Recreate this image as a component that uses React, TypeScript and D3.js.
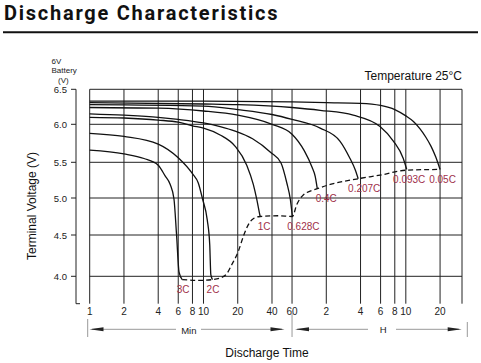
import { useEffect, useRef } from "react";
import * as d3 from "d3";

// discharge time gridlines, in minutes (1..60 min, then 2..20 h)
const gridMinutes = [1, 2, 4, 6, 8, 10, 20, 40, 60, 120, 240, 360, 480, 600, 1200];
const timeLabels = ["1", "2", "4", "6", "8", "10", "20", "40", "60", "2", "4", "6", "8", "10", "20"];
const voltTicks = [4.0, 4.5, 5.0, 5.5, 6.0, 6.5];
const voltLabels = ["4.0", "4.5", "5.0", "5.5", "6.0", "6.5"];

// [minutes, volts]
const curve3C = [[1, 5.66], [2, 5.61], [3, 5.55], [4, 5.46], [4.6, 5.31], [5.1, 5.19], [5.5, 4.99], [5.8, 4.5], [6.1, 4.05], [6.5, 3.96]];
const curve2C = [[1, 5.88], [2, 5.84], [4, 5.74], [6, 5.56], [8, 5.34], [9, 5.21], [9.8, 4.99], [10.8, 4.7], [11.35, 4.38], [11.6, 4.02], [12, 3.96]];
const curve1C = [[1, 6.1], [2, 6.09], [4, 6.06], [6, 6.03], [8, 5.98], [10, 5.95], [14, 5.86], [19, 5.71], [24, 5.46], [27.4, 5.19], [29.4, 4.98], [31, 4.8], [31.5, 4.75]];
const curve0628C = [[1, 6.15], [2, 6.13], [4, 6.1], [6, 6.07], [10, 6.02], [14, 5.97], [19, 5.91], [27, 5.81], [39, 5.63], [48, 5.49], [54, 5.21], [58, 4.98], [60.4, 4.75]];
const curve04C = [[1, 6.24], [4, 6.23], [10, 6.19], [20, 6.13], [40, 6.0], [60, 5.87], [77, 5.65], [90, 5.43], [96, 5.3], [100, 5.13]];
const curve0207C = [[1, 6.28], [10, 6.26], [20, 6.21], [40, 6.14], [60, 6.07], [106, 5.95], [158, 5.78], [194, 5.55], [215, 5.4], [229, 5.27]];
const curve0093C = [[1, 6.31], [10, 6.29], [20, 6.28], [60, 6.24], [106, 6.2], [207, 6.13], [356, 5.97], [466, 5.78], [570, 5.55], [611, 5.4]];
const curve005C = [[1, 6.33], [10, 6.33], [60, 6.32], [120, 6.31], [240, 6.3], [360, 6.27], [480, 6.21], [600, 6.12], [700, 6.04], [800, 5.94], [900, 5.83], [1000, 5.71], [1100, 5.57], [1200, 5.4]];

// final voltage envelope (dashed)
const endVoltage = [[6.5, 3.96], [9, 3.95], [12, 3.96], [14, 3.98], [16, 4.03], [17.7, 4.14], [20.2, 4.3], [22.5, 4.49], [24.8, 4.64], [27.4, 4.72], [31.5, 4.75], [45, 4.76], [60.4, 4.75], [66, 4.91], [75, 5.04], [100, 5.13], [130, 5.19], [229, 5.27], [356, 5.32], [611, 5.39], [1200, 5.4]];

const rates = ["3C", "2C", "1C", "0.628C", "0.4C", "0.207C", "0.093C", "0.05C"];
const curves = [curve3C, curve2C, curve1C, curve0628C, curve04C, curve0207C, curve0093C, curve005C];

export default function App() {
    const svgRef = useRef<SVGSVGElement>(null);

    useEffect(() => {
        const svg = d3.select(svgRef.current);
        svg.selectAll("*").remove();

        const left = 89.7, right = 462, top = 89.3, bottom = 303.7;
        const x = d3.scaleLog().domain([1, 1870]).range([left, right]);
        // the printed voltage grid is not evenly spaced, so map each gridline
        const y = d3.scaleLinear()
            .domain([3.668, 4.0, 4.5, 5.0, 5.5, 6.0, 6.5])
            .range([bottom, 276.3, 235, 198, 162.3, 124.3, top]);
        const font = "'Liberation Sans', Arial, sans-serif";

        // title
        svg.append("text")
            .attr("x", 4).attr("y", 19.5)
            .attr("font-family", "Roboto, sans-serif")
            .attr("font-weight", 700)
            .attr("font-size", 20)
            .attr("letter-spacing", 1.75)
            .attr("fill", "#111")
            .text("Discharge Characteristics");
        svg.append("line")
            .attr("x1", 3).attr("x2", 478).attr("y1", 32.3).attr("y2", 32.3)
            .attr("stroke", "#111").attr("stroke-width", 2);

        // unit note
        const note = svg.append("g").attr("font-family", font).attr("font-size", 8).attr("fill", "#222");
        note.append("text").attr("x", 51.5).attr("y", 63.5).text("6V");
        note.append("text").attr("x", 51.5).attr("y", 72.5).text("Battery");
        note.append("text").attr("x", 58).attr("y", 82.5).text("(V)");

        svg.append("text")
            .attr("x", right).attr("y", 80)
            .attr("text-anchor", "end")
            .attr("font-family", font).attr("font-size", 12).attr("fill", "#111")
            .text("Temperature 25°C");

        // grid
        const grid = svg.append("g").attr("stroke", "#222").attr("stroke-width", 1);
        grid.selectAll(".v").data(gridMinutes).join("line")
            .attr("x1", d => x(d)).attr("x2", d => x(d))
            .attr("y1", top).attr("y2", bottom);
        grid.append("line").attr("x1", right).attr("x2", right).attr("y1", top).attr("y2", bottom);
        grid.selectAll(".h").data(voltTicks).join("line")
            .attr("x1", left).attr("x2", right)
            .attr("y1", d => y(d)).attr("y2", d => y(d));

        // y axis
        const axisX = 76;
        const ax = svg.append("g").attr("stroke", "#222").attr("stroke-width", 1);
        ax.append("line").attr("x1", axisX).attr("x2", axisX).attr("y1", top).attr("y2", bottom);
        ax.append("line").attr("x1", axisX).attr("x2", axisX + 4).attr("y1", bottom).attr("y2", bottom);
        ax.selectAll(".t").data(voltTicks).join("line")
            .attr("x1", axisX - 5).attr("x2", axisX)
            .attr("y1", d => y(d)).attr("y2", d => y(d));
        svg.append("g").selectAll("text").data(voltTicks).join("text")
            .attr("x", 67).attr("y", d => y(d) + 4)
            .attr("text-anchor", "end")
            .attr("font-family", font).attr("font-size", 9.5).attr("fill", "#222")
            .text((d, i) => voltLabels[i]);

        // x tick labels
        svg.append("g").selectAll("text").data(gridMinutes).join("text")
            .attr("x", d => x(d)).attr("y", 315)
            .attr("text-anchor", "middle")
            .attr("font-family", font).attr("font-size", 10).attr("fill", "#222")
            .text((d, i) => timeLabels[i]);

        // Min / H arrows
        const arr = svg.append("g").attr("stroke", "#999").attr("stroke-width", 1);
        const ay = 329.3;
        arr.append("line").attr("x1", 87.7).attr("x2", 87.7).attr("y1", 319).attr("y2", 337);
        arr.append("line").attr("x1", x(60)).attr("x2", x(60)).attr("y1", 312).attr("y2", 337);
        arr.append("line").attr("x1", 467.3).attr("x2", 467.3).attr("y1", 322).attr("y2", 337);
        arr.append("line").attr("x1", 92).attr("x2", 176).attr("y1", ay).attr("y2", ay);
        arr.append("line").attr("x1", 201).attr("x2", 282).attr("y1", ay).attr("y2", ay);
        arr.append("line").attr("x1", 297).attr("x2", 368).attr("y1", ay).attr("y2", ay);
        arr.append("line").attr("x1", 396).attr("x2", 459).attr("y1", ay).attr("y2", ay);
        const heads = svg.append("g").attr("fill", "#222");
        const head = (tip: number, dir: number) => {
            heads.append("path").attr("d", `M${tip},${ay} L${tip + dir * 14},${ay - 2} L${tip + dir * 14},${ay + 2} Z`);
        };
        head(89.5, 1);
        head(284.5, -1);
        head(295, 1);
        head(461.7, -1);
        svg.append("text").attr("x", 188.8).attr("y", 333.5).attr("text-anchor", "middle")
            .attr("font-family", font).attr("font-size", 9.5).attr("fill", "#222").text("Min");
        svg.append("text").attr("x", 383.3).attr("y", 332.5).attr("text-anchor", "middle")
            .attr("font-family", font).attr("font-size", 9.5).attr("fill", "#222").text("H");

        // axis titles
        svg.append("text").attr("x", 267).attr("y", 357).attr("text-anchor", "middle")
            .attr("font-family", font).attr("font-size", 12).attr("fill", "#111").text("Discharge Time");
        svg.append("text")
            .attr("transform", "translate(36,206) rotate(-90)")
            .attr("text-anchor", "middle")
            .attr("font-family", font).attr("font-size", 12).attr("fill", "#111").text("Terminal Voltage (V)");

        // discharge curves
        const line = d3.line<number[]>()
            .x(d => x(d[0]))
            .y(d => y(d[1]))
            .curve(d3.curveMonotoneX);
        svg.append("g").selectAll("path").data(curves).join("path")
            .attr("d", d => line(d))
            .attr("fill", "none").attr("stroke", "#111").attr("stroke-width", 1.3);

        svg.append("path")
            .attr("d", line(endVoltage))
            .attr("fill", "none").attr("stroke", "#111").attr("stroke-width", 1.3)
            .attr("stroke-dasharray", "5,3");

        // rate labels under each curve end
        const labelNudge = [1, 0.5, 4, 11, 9, 6, 2.5, 2.5];
        svg.append("g").selectAll("text").data(curves).join("text")
            .attr("x", (d, i) => x(d[d.length - 1][0]) + labelNudge[i])
            .attr("y", d => y(d[d.length - 1][1]) + 13.5)
            .attr("text-anchor", "middle")
            .attr("font-family", font).attr("font-size", 10).attr("fill", "#a0304a")
            .text((d, i) => rates[i]);
    }, []);

    return (
        <svg ref={svgRef} width={481} height={363}
            style={{ position: "absolute", left: 0, top: 0, background: "#fff" }} />
    );
}
